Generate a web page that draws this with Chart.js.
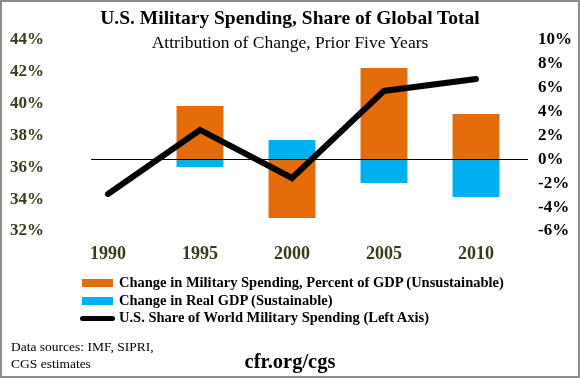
<!DOCTYPE html>
<html>
<head>
<meta charset="utf-8">
<script src="https://cdn.jsdelivr.net/npm/chart.js@4"></script>
<style>
  html, body { margin:0; padding:0; background:#fff; }
  #wrap { position:relative; width:580px; height:378px; box-sizing:border-box; border:2px solid #8c8c8c; overflow:hidden; font-family:"Liberation Serif", serif; }
  #c { position:absolute; left:-2px; top:-2px; }
  .t { position:absolute; white-space:nowrap; color:#000; }
  #title { left:0; width:576px; text-align:center; top:6px; font-size:19.5px; line-height:19px; font-weight:bold; }
  #subtitle { left:0; width:576px; text-align:center; top:31px; font-size:17.5px; line-height:18px; }
  #legend { position:absolute; left:76px; top:272px; }
  .row { position:relative; height:17.5px; font-size:14.5px; font-weight:bold; line-height:17.5px; padding-left:41px; white-space:nowrap; }
  .sw { position:absolute; left:4px; top:5px; width:31px; height:8px; }
  .ln { position:absolute; left:2px; top:7px; width:35px; height:5px; border-radius:3px; }
  #src1 { left:9px; top:337px; font-size:13.5px; line-height:16px; }
  #src2 { left:9px; top:354px; font-size:13.5px; line-height:16px; }
  #cfr { left:0; width:576px; text-align:center; top:349px; font-size:20.5px; line-height:21px; font-weight:bold; }
</style>
</head>
<body>
<div id="wrap">
  <canvas id="c" width="580" height="378"></canvas>
  <div class="t" id="title">U.S. Military Spending, Share of Global Total</div>
  <div class="t" id="subtitle">Attribution of Change, Prior Five Years</div>
  <div id="legend"></div>
  <div class="t" id="src1">Data sources: IMF, SIPRI,</div>
  <div class="t" id="src2">CGS estimates</div>
  <div class="t" id="cfr">cfr.org/cgs</div>
</div>
<script>
// ---- data ----
const years = ["1990", "1995", "2000", "2005", "2010"];
const militaryPctGdpChange = [null, 4.47, -4.91, 7.66, 3.80];   // right axis, %
const realGdpChange       = [null, -0.64, 1.62, -1.98, -3.15];  // right axis, %
const usShareOfWorld      = [34.33, 38.35, 35.33, 40.80, 41.55]; // left axis, %
const leftTicks  = [32, 34, 36, 38, 40, 42, 44];
const rightTicks = [-6, -4, -2, 0, 2, 4, 6, 8, 10];
const seriesNames = [
  "Change in Military Spending, Percent of GDP (Unsustainable)",
  "Change in Real GDP (Sustainable)",
  "U.S.  Share of World Military Spending (Left Axis)"
];

const ORANGE = "#E46C0A", BLUE = "#00B0F0", OLIVE = "#3a3a1c";
const FONT = "'Liberation Serif', serif";

const zeroLine = {
  id: "zeroLine",
  afterDatasetsDraw(chart) {
    const x = chart.scales.x, y = chart.scales.yR, ctx = chart.ctx;
    const yy = Math.round(y.getPixelForValue(0)) + 0.5;
    ctx.save();
    ctx.strokeStyle = "#000";
    ctx.lineWidth = 1;
    ctx.beginPath();
    ctx.moveTo(x.getPixelForValue(-0.185), yy);
    ctx.lineTo(x.getPixelForValue(4.565), yy);
    ctx.stroke();
    ctx.restore();
  }
};

const chart = new Chart(document.getElementById("c"), {
  data: {
    labels: years,
    datasets: [
      { type: "line", label: seriesNames[2], data: usShareOfWorld, yAxisID: "yL",
        borderColor: "#000", borderWidth: 6, pointRadius: 0, tension: 0,
        borderCapStyle: "round", borderJoinStyle: "miter", order: 0 },
      { type: "bar", label: seriesNames[0], data: militaryPctGdpChange, yAxisID: "yR",
        backgroundColor: ORANGE, stack: "s", order: 1, barPercentage: 0.51, categoryPercentage: 1 },
      { type: "bar", label: seriesNames[1], data: realGdpChange, yAxisID: "yR",
        backgroundColor: BLUE, stack: "s", order: 1, barPercentage: 0.51, categoryPercentage: 1 }
    ]
  },
  options: {
    responsive: false,
    animation: false,
    devicePixelRatio: 1,
    layout: { padding: { top: 40, bottom: 107, left: 0, right: 0 } },
    plugins: { legend: { display: false }, title: { display: false }, tooltip: { enabled: false } },
    scales: {
      x: {
        stacked: true,
        grid: { display: false, drawTicks: false },
        border: { display: false },
        ticks: { color: OLIVE, padding: 13, font: { family: FONT, size: 18, weight: "bold" } },
        afterFit(s) { s.height = 40; }
      },
      yL: {
        position: "left", min: leftTicks[0], max: leftTicks[leftTicks.length - 1],
        grid: { display: false, drawTicks: false },
        border: { display: false },
        afterBuildTicks(s) { s.ticks = leftTicks.map(v => ({ value: v })); },
        ticks: { color: OLIVE, padding: 18, font: { family: FONT, size: 17, weight: "bold" },
                 callback: v => v + "%" },
        afterFit(s) { s.width = 62; }
      },
      yR: {
        position: "right", stacked: true, min: rightTicks[0], max: rightTicks[rightTicks.length - 1],
        grid: { display: false, drawTicks: false },
        border: { display: false },
        afterBuildTicks(s) { s.ticks = rightTicks.map(v => ({ value: v })); },
        ticks: { color: "#000", padding: 16, font: { family: FONT, size: 17, weight: "bold" },
                 callback: v => v + "%" },
        afterFit(s) { s.width = 58; }
      }
    }
  },
  plugins: [zeroLine]
});

// HTML legend built from the datasets
const legend = document.getElementById("legend");
[1, 2, 0].forEach(i => {
  const ds = chart.data.datasets[i];
  const row = document.createElement("div");
  row.className = "row";
  const mark = document.createElement("span");
  if (ds.type === "line") { mark.className = "ln"; mark.style.background = ds.borderColor; }
  else { mark.className = "sw"; mark.style.background = ds.backgroundColor; }
  row.appendChild(mark);
  row.appendChild(document.createTextNode(ds.label));
  legend.appendChild(row);
});
</script>
</body>
</html>
